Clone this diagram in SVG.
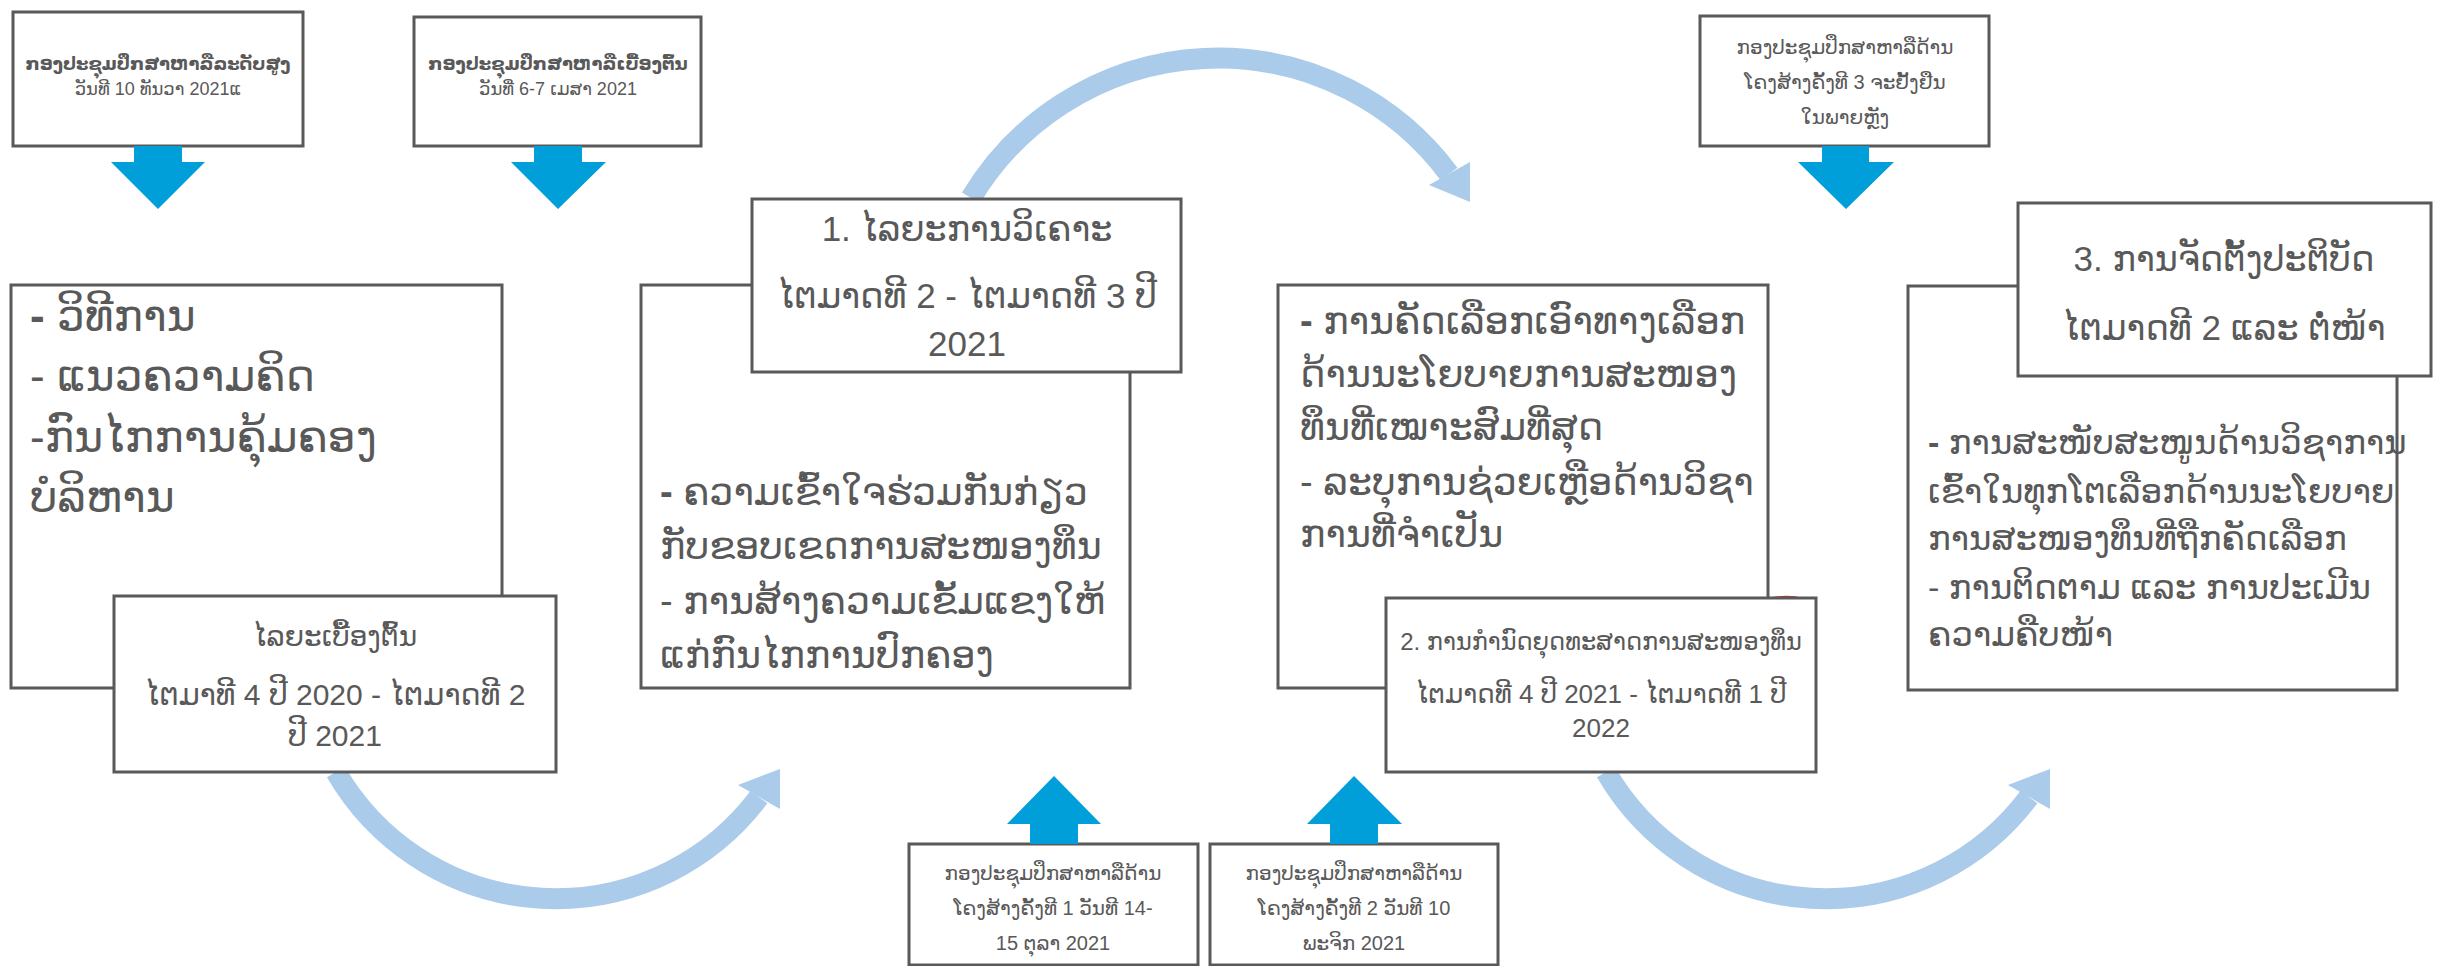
<svg xmlns="http://www.w3.org/2000/svg" width="2438" height="966" viewBox="0 0 2438 966">
<style>
text{font-family:"Liberation Sans","DejaVu Sans",sans-serif;fill:#595959}
.box{fill:#fff;stroke:#595959;stroke-width:3}
.arr{fill:#009fda}
.arc{fill:none;stroke:#abcbea;stroke-width:21}
.head{fill:#abcbea}
.c{text-anchor:middle}
.t18{font-size:18px}
.t20{font-size:20px}
.b{font-weight:bold}
.big{font-size:44px}
.mid{font-size:38px}
.md{font-size:34px}
.ttl{font-size:35px}
</style>
<rect width="2438" height="966" fill="#fff"/>
<g id="connectors">
<path class="arc" d="M 971 198 A 288 288 0 0 1 1449 174"/>
<polygon class="head" points="1429,185 1470,202 1470,162"/>
<path class="arc" d="M 336 772 A 254 254 0 0 0 759 797"/>
<polygon class="head" points="738,785 780,769 780,809"/>
<path class="arc" d="M 1606 772 A 254 254 0 0 0 2029 797"/>
<polygon class="head" points="2008,785 2050,769 2050,809"/>
</g>
<g id="meeting-high">
<rect class="box" x="13" y="12" width="290" height="134"/>
<text class="t18 b c" x="158" y="70">ກອງປະຊຸມປຶກສາຫາລືລະດັບສູງ</text>
<text class="t18 c" x="158" y="95">ວັນທີ 10 ທັນວາ 2021ແ</text>
<polygon class="arr" points="134,146 182,146 182,162 205,162 158,209 111,162 134,162"/>
</g>
<g id="meeting-initial">
<rect class="box" x="414" y="17" width="287" height="129"/>
<text class="t18 b c" x="558" y="70">ກອງປະຊຸມປຶກສາຫາລືເບື້ອງຕົ້ນ</text>
<text class="t18 c" x="558" y="95">ວັນທີ່ 6-7 ເມສາ 2021</text>
<polygon class="arr" points="534,146 582,146 582,162 606,162 558,209 511,162 534,162"/>
</g>
<g id="meeting-3">
<rect class="box" x="1700" y="16" width="289" height="130"/>
<text class="t20 c" x="1845" y="54">ກອງປະຊຸມປຶກສາຫາລືດ້ານ</text>
<text class="t20 c" x="1845" y="89">ໂຄງສ້າງຄັ້ງທີ 3 ຈະຢັ້ງຢືນ</text>
<text class="t20 c" x="1845" y="124">ໃນພາຍຫຼັງ</text>
<polygon class="arr" points="1822,146 1869,146 1869,162 1894,162 1846,209 1798,162 1822,162"/>
</g>
<g id="initial-content">
<rect class="box" x="11" y="285" width="491" height="403"/>
<text class="big" x="30" y="331"><tspan font-weight="bold">-</tspan> ວິທີການ</text>
<text class="big" x="30" y="391">- ແນວຄວາມຄິດ</text>
<text class="big" x="30" y="452">-ກົນໄກການຄຸ້ມຄອງ</text>
<text class="big" x="30" y="512">ບໍລິຫານ</text>
</g>
<g id="initial-phase">
<rect class="box" x="114" y="596" width="442" height="176"/>
<text class="c" style="font-size:28px" x="335" y="646">ໄລຍະເບື້ອງຕົ້ນ</text>
<text class="c" style="font-size:30px" x="335" y="705">ໄຕມາທີ 4 ປີ 2020 - ໄຕມາດທີ 2</text>
<text class="c" style="font-size:30px" x="335" y="746">ປີ 2021</text>
</g>
<g id="analysis-content">
<rect class="box" x="641" y="285" width="489" height="403"/>
<text class="mid" x="660" y="505"><tspan font-weight="bold">-</tspan> ຄວາມເຂົ້າໃຈຮ່ວມກັນກ່ຽວ</text>
<text class="mid" x="660" y="559">ກັບຂອບເຂດການສະໜອງທຶນ</text>
<text class="mid" x="660" y="614">- ການສ້າງຄວາມເຂັ້ມແຂງໃຫ້</text>
<text class="mid" x="660" y="668">ແກ່ກົນໄກການປົກຄອງ</text>
</g>
<g id="analysis-phase">
<rect class="box" x="752" y="199" width="429" height="173"/>
<text class="ttl c" x="967" y="241">1. ໄລຍະການວິເຄາະ</text>
<text class="ttl c" x="967" y="308">ໄຕມາດທີ 2 - ໄຕມາດທີ 3 ປີ</text>
<text class="ttl c" x="967" y="356">2021</text>
</g>
<g id="strategy-content">
<rect class="box" x="1278" y="285" width="490" height="403"/>
<text class="mid" x="1300" y="334"><tspan font-weight="bold">-</tspan> ການຄັດເລືອກເອົາທາງເລືອກ</text>
<text class="mid" x="1300" y="387">ດ້ານນະໂຍບາຍການສະໜອງ</text>
<text class="mid" x="1300" y="440">ທຶນທີ່ເໝາະສົມທີ່ສຸດ</text>
<text class="mid" x="1300" y="495">- ລະບຸການຊ່ວຍເຫຼືອດ້ານວິຊາ</text>
<text class="mid" x="1300" y="547">ການທີ່ຈຳເປັນ</text>
</g>
<g id="strategy-phase">
<path d="M 1387 684 L 1387 752" stroke="#e02020" stroke-width="2" fill="none"/>
<path d="M 1772 598 Q 1790 595 1803 599" stroke="#e02020" stroke-width="2" fill="none"/>
<rect class="box" x="1386" y="598" width="430" height="174"/>
<text class="c" style="font-size:24px" x="1601" y="650">2. ການກຳນົດຍຸດທະສາດການສະໜອງທຶນ</text>
<text class="c" style="font-size:26px" x="1601" y="703">ໄຕມາດທີ 4 ປີ 2021 - ໄຕມາດທີ 1 ປີ</text>
<text class="c" style="font-size:26px" x="1601" y="737">2022</text>
</g>
<g id="implementation-content">
<rect class="box" x="1908" y="286" width="489" height="404"/>
<text class="md" x="1928" y="454"><tspan font-weight="bold">-</tspan> ການສະໜັບສະໜູນດ້ານວິຊາການ</text>
<text class="md" x="1928" y="503">ເຂົ້າໃນທຸກໂຕເລືອກດ້ານນະໂຍບາຍ</text>
<text class="md" x="1928" y="550">ການສະໜອງທຶນທີ່ຖືກຄັດເລືອກ</text>
<text class="md" x="1928" y="599">- ການຕິດຕາມ ແລະ ການປະເມີນ</text>
<text class="md" x="1928" y="646">ຄວາມຄືບໜ້າ</text>
</g>
<g id="implementation-phase">
<rect class="box" x="2018" y="203" width="413" height="173"/>
<text class="ttl c" x="2224" y="271">3. ການຈັດຕັ້ງປະຕິບັດ</text>
<text class="ttl c" x="2224" y="340">ໄຕມາດທີ 2 ແລະ ຕໍ່ໜ້າ</text>
</g>
<g id="meeting-1">
<rect class="box" x="909" y="844" width="289" height="121"/>
<text class="t20 c" x="1053" y="880">ກອງປະຊຸມປຶກສາຫາລືດ້ານ</text>
<text class="t20 c" x="1053" y="915">ໂຄງສ້າງຄັ້ງທີ 1 ວັນທີ 14-</text>
<text class="t20 c" x="1053" y="950">15 ຕຸລາ 2021</text>
<polygon class="arr" points="1030,844 1078,844 1078,824 1101,824 1054,776 1007,824 1030,824"/>
</g>
<g id="meeting-2">
<rect class="box" x="1210" y="844" width="288" height="121"/>
<text class="t20 c" x="1354" y="880">ກອງປະຊຸມປຶກສາຫາລືດ້ານ</text>
<text class="t20 c" x="1354" y="915">ໂຄງສ້າງຄັ້ງທີ 2 ວັນທີ 10</text>
<text class="t20 c" x="1354" y="950">ພະຈິກ 2021</text>
<polygon class="arr" points="1330,844 1378,844 1378,824 1402,824 1354,776 1307,824 1330,824"/>
</g>
</svg>
